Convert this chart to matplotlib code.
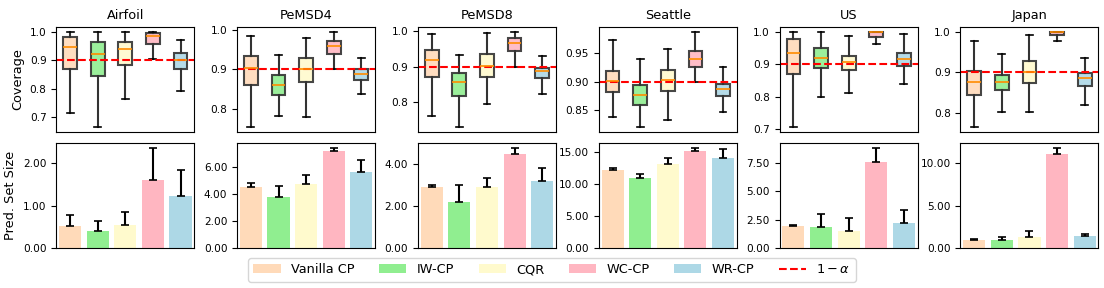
import matplotlib.pyplot as plt
from matplotlib.patches import Patch
from matplotlib.lines import Line2D
from matplotlib.ticker import FormatStrFormatter

datasets = ['Airfoil', 'PeMSD4', 'PeMSD8', 'Seattle', 'US', 'Japan']
methods = ['Vanilla CP', 'IW-CP', 'CQR', 'WC-CP', 'WR-CP']
colors = ['peachpuff', 'lightgreen', 'lemonchiffon', 'lightpink', 'lightblue']
alpha_line = 0.9

# coverage box stats per dataset: rows = methods, (whislo, q1, med, q3, whishi)
cov_airfoil = [(0.714, 0.871, 0.947, 0.983, 1.0),
               (0.666, 0.844, 0.923, 0.965, 1.0),
               (0.764, 0.883, 0.941, 0.965, 1.0),
               (0.905, 0.958, 0.984, 0.997, 1.0),
               (0.793, 0.871, 0.900, 0.924, 0.970)]
cov_pemsd4 = [(0.753, 0.859, 0.904, 0.934, 0.985),
              (0.782, 0.834, 0.859, 0.884, 0.937),
              (0.779, 0.867, 0.900, 0.928, 0.980),
              (0.900, 0.939, 0.960, 0.971, 0.995),
              (0.837, 0.872, 0.888, 0.900, 0.928)]
cov_pemsd8 = [(0.762, 0.872, 0.919, 0.945, 0.991),
              (0.731, 0.819, 0.856, 0.881, 0.932),
              (0.794, 0.870, 0.902, 0.935, 0.993),
              (0.900, 0.944, 0.966, 0.980, 0.997),
              (0.822, 0.867, 0.887, 0.896, 0.929)]
cov_seattle = [(0.838, 0.882, 0.901, 0.919, 0.973),
               (0.821, 0.859, 0.877, 0.894, 0.940),
               (0.834, 0.885, 0.903, 0.921, 0.958),
               (0.900, 0.926, 0.941, 0.954, 0.988),
               (0.848, 0.876, 0.887, 0.896, 0.926)]
cov_us = [(0.707, 0.869, 0.935, 0.979, 1.0),
          (0.799, 0.888, 0.918, 0.950, 1.0),
          (0.813, 0.882, 0.907, 0.926, 0.986),
          (0.963, 0.985, 1.0, 1.0, 1.0),
          (0.838, 0.894, 0.915, 0.936, 0.993)]
cov_japan = [(0.765, 0.845, 0.875, 0.903, 0.978),
             (0.802, 0.857, 0.875, 0.893, 0.945),
             (0.802, 0.874, 0.902, 0.927, 0.992),
             (0.977, 0.991, 1.0, 1.0, 1.0),
             (0.820, 0.867, 0.885, 0.898, 0.935)]
coverage = [cov_airfoil, cov_pemsd4, cov_pemsd8, cov_seattle, cov_us, cov_japan]

# prediction set size: mean and upper error
size_mean = [[0.51, 0.40, 0.545, 1.60, 1.23],
             [4.54, 3.78, 4.73, 7.20, 5.61],
             [2.89, 2.16, 2.89, 4.48, 3.16],
             [12.15, 10.92, 13.03, 15.18, 14.10],
             [1.92, 1.89, 1.51, 7.56, 2.21],
             [0.97, 0.97, 1.32, 11.17, 1.36]]
size_err = [[0.27, 0.25, 0.30, 0.76, 0.61],
            [0.29, 0.78, 0.71, 0.19, 0.88],
            [0.11, 0.84, 0.44, 0.25, 0.65],
            [0.26, 0.67, 1.02, 0.36, 1.34],
            [0.14, 1.08, 1.16, 1.25, 1.16],
            [0.08, 0.31, 0.66, 0.62, 0.35]]

fs = 9.3
tick_fs = 7.6

fig, axes = plt.subplots(2, 6, figsize=(11.04, 2.88), dpi=100)
fig.subplots_adjust(left=0.051, right=0.995, top=0.906, bottom=0.139,
                    wspace=0.31, hspace=0.11)

pos = list(range(1, len(methods) + 1))
for j, name in enumerate(datasets):
    ax = axes[0, j]
    stats = []
    for k, (lo, q1, med, q3, hi) in enumerate(coverage[j]):
        stats.append(dict(whislo=lo, q1=q1, med=med, q3=q3, whishi=hi, fliers=[], label=methods[k]))
    bp = ax.bxp(stats, positions=pos, widths=0.5, patch_artist=True, showfliers=False,
                boxprops=dict(edgecolor='#333333', linewidth=1.5, alpha=0.9),
                whiskerprops=dict(color='#333333', linewidth=1.5),
                capprops=dict(color='black', linewidth=1.2),
                medianprops=dict(color='darkorange', linewidth=1.2))
    for patch, c in zip(bp['boxes'], colors):
        patch.set_facecolor(c)
    ax.axhline(alpha_line, color='red', linestyle='--', linewidth=1.5)
    ax.set_xticks([])
    ax.set_title(name, fontsize=fs)
    ax.tick_params(labelsize=tick_fs)

    ax2 = axes[1, j]
    ax2.bar(pos, size_mean[j], width=0.8, color=colors,
            yerr=[[0] * 5, size_err[j]], capsize=3,
            error_kw=dict(ecolor='black', elinewidth=1.5, capthick=1.2))
    ax2.set_xticks([])
    ax2.set_xlim(0.5, 5.5)
    ax2.yaxis.set_major_formatter(FormatStrFormatter('%.2f'))
    ax2.tick_params(labelsize=tick_fs)

axes[0, 0].set_ylabel('Coverage', fontsize=fs)
axes[1, 0].set_ylabel('Pred. Set Size', fontsize=fs)

handles = [Patch(facecolor=c, label=m) for c, m in zip(colors, methods)]
handles.append(Line2D([0], [0], color='red', linestyle='--', linewidth=1.5, label=r'$1-\alpha$'))
fig.legend(handles=handles, loc='lower center', ncol=6, fontsize=fs,
           bbox_to_anchor=(0.5, 0.0), handlelength=2.1, columnspacing=1.9)

fig.savefig('out.png', dpi=100)
